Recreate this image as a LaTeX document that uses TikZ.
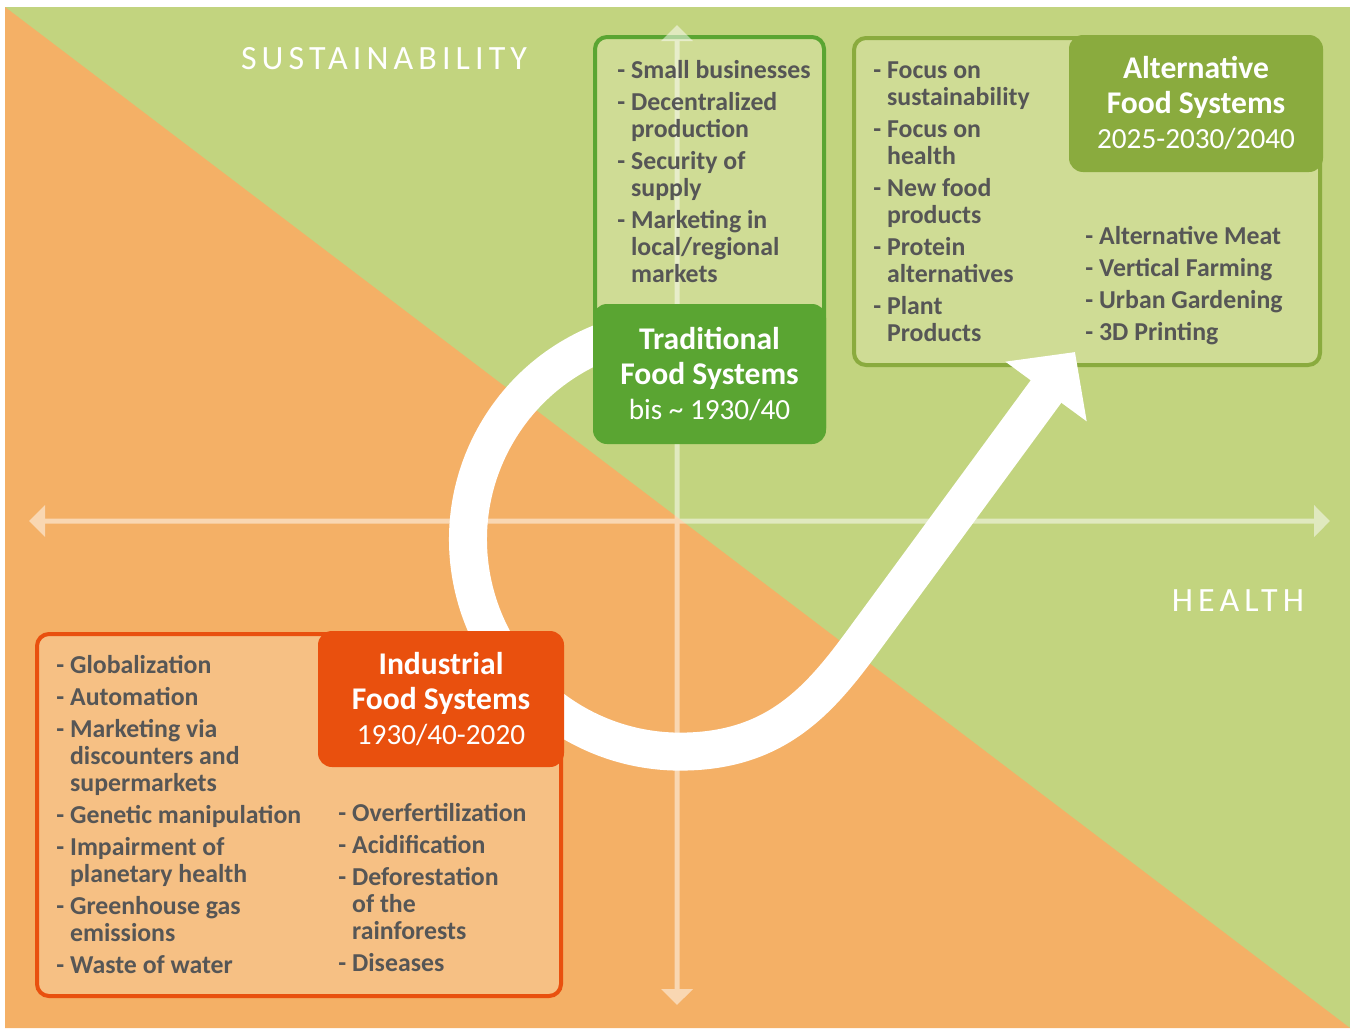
\documentclass[tikz,border=0pt]{standalone}
\usepackage{fontspec}
\setmainfont{Carlito}
\newfontfamily\axisfont[LetterSpace=15]{Carlito}
\usetikzlibrary{arrows.meta,positioning}

\definecolor{bggreen}{HTML}{C2D47F}
\definecolor{bgorange}{HTML}{F4B066}
\definecolor{tradgreen}{HTML}{5AA532}
\definecolor{altgreen}{HTML}{8AAB3E}
\definecolor{indorange}{HTML}{E9500E}
\definecolor{palegreen}{HTML}{CFDC95}
\definecolor{paleorange}{HTML}{F6C084}
\definecolor{itemgrey}{HTML}{565656}

\newcommand{\cont}{\hphantom{- }}

\begin{document}
\begin{tikzpicture}
      [x=0.5pt, y=-0.5pt,
      list box/.style={draw, line width=2pt, rounded corners=6pt},
      title box/.style={rectangle, rounded corners=7pt, align=center, text=white, inner sep=0pt, font=\fontsize{15.8}{17.5}\selectfont\bfseries},
      item list/.style={anchor=north west, inner sep=0pt, align=left, text=itemgrey, font=\fontsize{12.9}{13.5}\selectfont\bfseries},
      axis arrow/.style={draw=white, fill=white, line width=2.5pt, {Triangle[width=15.5pt,length=8pt]}-{Triangle[width=15.5pt,length=8pt]}},
      axis label/.style={text=white, font=\axisfont\fontsize{17}{20}\selectfont}
      ]

      % background
      \useasboundingbox (0,0) rectangle (1352,1028);
      \fill[white] (0,0) rectangle (1352,1028);
      \fill[bggreen] (5,7) rectangle (1350,1028);
      \fill[bgorange] (5,7) -- (1350,1028) -- (5,1028) -- cycle;

      % list boxes
      \draw[list box, tradgreen, fill=palegreen] (595,37) rectangle (824,440);
      \draw[list box, altgreen, fill=palegreen] (854,38) rectangle (1320,365);
      \draw[list box, indorange, fill=paleorange] (37,634) rectangle (561,996);

      % axes
      \coordinate (axis w) at (29,521);
      \coordinate (axis e) at (1330,521);
      \coordinate (axis n) at (677,25);
      \coordinate (axis s) at (677,1005);
      \begin{scope}[transparency group, opacity=0.5]
        \draw[axis arrow] (axis w) -- (axis e);
        \draw[axis arrow] (axis s) -- (axis n);
      \end{scope}

      \node[axis label] (sust) at (384,59) {SUSTAINABILITY};
      \node[axis label] (health) at (1238,601) {HEALTH};

      % path of the food systems
      \coordinate (ring start) at (786,356);
      \coordinate (ring end) at (1075,352);
      \draw[white, line width=19pt, -{Triangle[width=49pt,length=24.5pt]}]
        (ring start) arc[start angle=-60, end angle=-270, radius=212]
        .. controls +(95,0) and +(-44,60) .. (863,641) -- (ring end);

      % title boxes
      \node[title box, fill=tradgreen, minimum width=116.5pt, minimum height=70pt] (trad) at (709.5,374)
        {Traditional\\Food Systems\\{\mdseries\fontsize{14.6}{17.5}\selectfont bis \textasciitilde{} 1930/40}};
      \node[title box, fill=altgreen, minimum width=127pt, minimum height=68.5pt] (alt) at (1196,103.5)
        {Alternative\\Food Systems\\{\mdseries\fontsize{14.6}{17.5}\selectfont 2025-2030/2040}};
      \node[title box, fill=indorange, minimum width=123pt, minimum height=68pt] (ind) at (441,699)
        {Industrial\\Food Systems\\{\mdseries\fontsize{14.6}{17.5}\selectfont 1930/40-2020}};

      % lists
      \node[item list] (trad list) at (617,60)
        {- Small businesses\\[2.5pt]
         - Decentralized\\\cont production\\[2.5pt]
         - Security of\\\cont supply\\[2.5pt]
         - Marketing in\\\cont local/regional\\\cont markets};
      \node[item list] (alt list) at (873,61)
        {- Focus on\\\cont sustainability\\[2.5pt]
         - Focus on\\\cont health\\[2.5pt]
         - New food\\\cont products\\[2.5pt]
         - Protein\\\cont alternatives\\[2.5pt]
         - Plant\\\cont Products};
      \node[item list] (alt tech) at (1085,226)
        {- Alternative Meat\\[2.5pt]
         - Vertical Farming\\[2.5pt]
         - Urban Gardening\\[2.5pt]
         - 3D Printing};
      \node[item list] (ind list) at (56,655)
        {- Globalization\\[2.5pt]
         - Automation\\[2.5pt]
         - Marketing via\\\cont discounters and\\\cont supermarkets\\[2.5pt]
         - Genetic manipulation\\[2.5pt]
         - Impairment of\\\cont planetary health\\[2.5pt]
         - Greenhouse gas\\\cont emissions\\[2.5pt]
         - Waste of water};
      \node[item list] (ind effects) at (338,803)
        {- Overfertilization\\[2.5pt]
         - Acidification\\[2.5pt]
         - Deforestation\\\cont of the\\\cont rainforests\\[2.5pt]
         - Diseases};
\end{tikzpicture}
\end{document}
